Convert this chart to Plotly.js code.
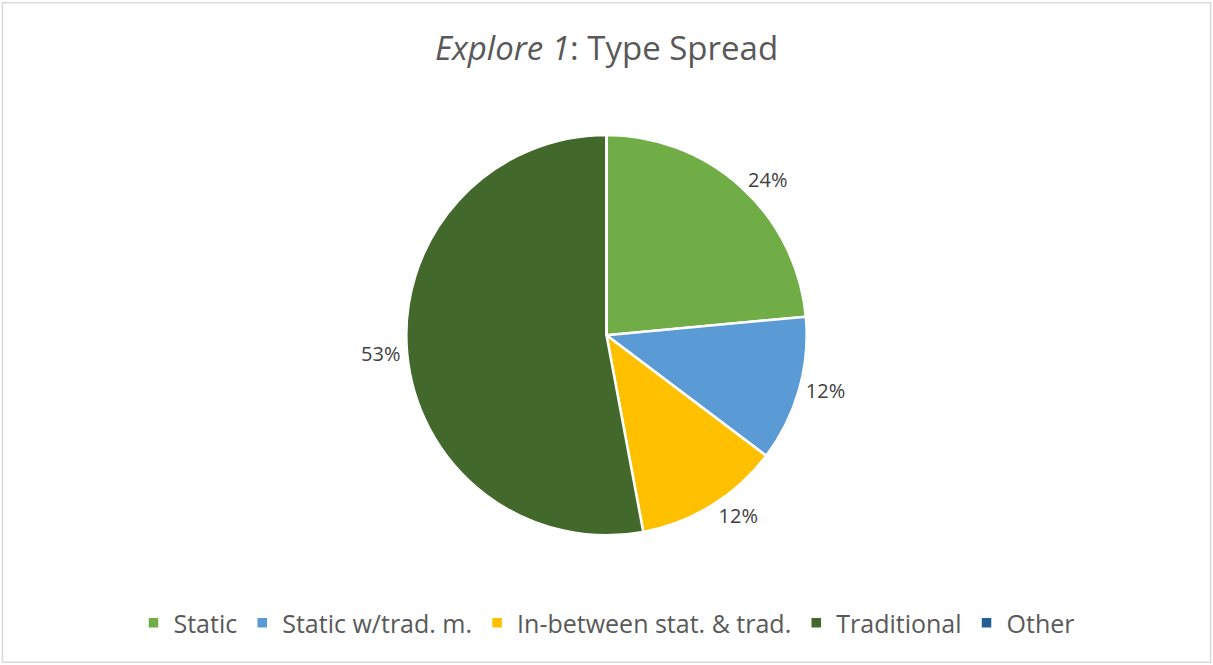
<!DOCTYPE html>
<html>
<head>
<meta charset="utf-8">
<script src="https://cdn.plot.ly/plotly-3.0.1.min.js"></script>
<style>html,body{margin:0;padding:0;background:#fff;}#chart{width:1213px;height:665px;}</style>
</head>
<body>
<div id="chart"></div>
<script>
var categories = ["Static", "Static w/trad. m.", "In-between stat. & trad.", "Traditional", "Other"];
var counts = [4, 2, 2, 9, 0];
var colors = ["#70AD47", "#5B9BD5", "#FFC000", "#43682B", "#255E91"];
var labelTemplates = ["%{percent:.0%}", "%{percent:.0%}", "%{percent:.0%}", "%{percent:.0%}", ""];

var trace = {
  type: "pie",
  labels: categories,
  values: counts,
  sort: false,
  direction: "clockwise",
  rotation: 0,
  marker: {colors: colors, line: {color: "#FFFFFF", width: 2.5}},
  textposition: "outside",
  texttemplate: labelTemplates,
  textfont: {family: "Open Sans, sans-serif", size: 20, color: "#404040"},
  hoverinfo: "label+percent",
  domain: {x: [0.2, 0.8], y: [0.195, 0.797]},
  showlegend: true
};

var layout = {
  width: 1213,
  height: 665,
  margin: {l: 0, r: 0, t: 0, b: 0},
  paper_bgcolor: "#FFFFFF",
  title: {
    text: "<i>Explore 1</i>: Type Spread",
    font: {family: "Open Sans, sans-serif", size: 33, color: "#595959"},
    x: 0.5, xanchor: "center", y: 0.927, yanchor: "middle"
  },
  legend: {
    orientation: "h",
    x: 0.5, xanchor: "center",
    y: 0.063, yanchor: "middle",
    font: {family: "Open Sans, sans-serif", size: 25, color: "#595959"},
    itemclick: false
  },
  shapes: [{
    type: "rect", xref: "paper", yref: "paper",
    x0: 0.002, x1: 0.998, y0: 0.004, y1: 0.996,
    line: {color: "#D9D9D9", width: 1.5}
  }]
};

Plotly.newPlot("chart", [trace], layout, {displayModeBar: false, staticPlot: true});
</script>
</body>
</html>
